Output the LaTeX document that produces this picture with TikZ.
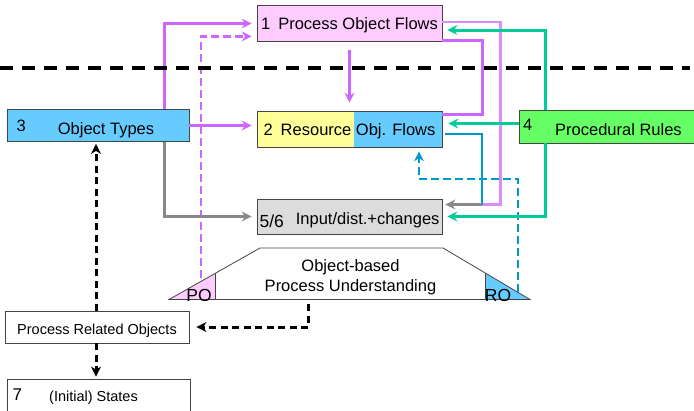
\documentclass[tikz,border=0pt]{standalone}
\usepackage{fontspec}
\setmainfont{Liberation Sans}
\usetikzlibrary{arrows.meta}

\definecolor{flowpink}{HTML}{FFCCFF}
\definecolor{resyellow}{HTML}{FFFF99}
\definecolor{objblue}{HTML}{66CCFF}
\definecolor{rulegreen}{HTML}{66FF66}
\definecolor{iogray}{HTML}{DCDCDC}
\definecolor{boxline}{HTML}{444444}
\definecolor{lilac}{HTML}{CC66FF}
\definecolor{lilaclight}{HTML}{D98CFF}
\definecolor{rulecyan}{HTML}{00CC99}
\definecolor{flowblue}{HTML}{0099CC}
\definecolor{linegray}{HTML}{888888}

\tikzset{
  box/.style={draw=boxline, line width=0.8pt, inner sep=0pt, text depth=0pt,
    font=\fontsize{16.5}{19}\selectfont},
  smallbox/.style={box, fill=white, font=\fontsize{14.5}{17}\selectfont},
  numtxt/.style={anchor=base west, inner sep=0pt, font=\fontsize{16.5}{19}\selectfont},
  link/.style={line width=3pt, -{Stealth[length=10pt,width=10pt,inset=3.5pt]}, shorten >=5pt},
  dlink/.style={black, line width=3pt, dash pattern=on 7pt off 4.5pt,
    -{Stealth[length=10pt,width=10pt,inset=3pt]}},
  sepline/.style={black, line width=4pt, dash pattern=on 13pt off 9pt}
}

\begin{document}
\begin{tikzpicture}[x=1pt,y=-1pt]
  \useasboundingbox (0,0) rectangle (694,410);
  % flow boxes
  \node [box, fill=flowpink, minimum width=185pt, minimum height=35.5pt, text height=12pt]
    (pof) at (349.5,23.5) {1\hspace{8pt}Process Object Flows};
  \node [box, fill=objblue, minimum width=185pt, minimum height=36pt, text height=12pt,
    path picture={\fill [resyellow] (path picture bounding box.north west)
      rectangle ([xshift=4.5pt]path picture bounding box.south);}]
    (rof) at (349.5,129.5) {2\hspace{8pt}Resource Obj. Flows};
  \node [box, fill=iogray, minimum width=185pt, minimum height=35pt, text height=15pt]
    (iod) at (349.5,216.5) {\raisebox{-3.5pt}{\fontsize{17.5}{20}\selectfont 5/6}\hspace{12pt}Input/dist.+changes};
  % side boxes
  \node [box, fill=objblue, minimum width=182pt, minimum height=32pt, text height=17pt]
    (objt) at (98,125.5) {\hspace*{16pt}Object Types};
  \node [numtxt] (num3) at (16.5,131) {3};
  \node [box, fill=rulegreen, minimum width=181pt, minimum height=33pt, text height=17pt]
    (rules) at (609.5,126.5) {\hspace*{18pt}Procedural Rules};
  \node [numtxt] (num4) at (523,130.7) {4};
  \node [smallbox, minimum width=184pt, minimum height=32pt, text height=14pt]
    (pro) at (97,327) {Process Related Objects};
  \node [smallbox, minimum width=183pt, minimum height=35pt, text height=10.5pt]
    (inis) at (98.5,396.5) {(Initial) States\hspace*{10pt}};
  \node [numtxt, font=\fontsize{17}{19}\selectfont] (num7) at (12.5,400.7) {7};
  % understanding
  \fill [flowpink] (169,299.5) -- (215,273.5) -- (215,299.5) -- cycle;
  \fill [objblue] (485,272.9) -- (530,299.5) -- (485,299.5) -- cycle;
  \draw [boxline, line width=0.8pt] (169,299.5) -- (260,248) -- (443,248) -- (530,299.5) -- cycle;
  \draw [boxline, line width=0.8pt] (215,273.5) -- (215,299.5);
  \draw [boxline, line width=0.8pt] (485,272.9) -- (485,299.5);
  \node [align=center, inner sep=0pt, font=\fontsize{16.5}{20}\selectfont]
    (opu) at (350.5,277.5) {Object-based\\Process Understanding};
  \node [anchor=base, inner sep=0pt, font=\fontsize{17.5}{20}\selectfont] (po) at (199,301.5) {PO};
  \node [anchor=base, inner sep=0pt, font=\fontsize{17.5}{20}\selectfont] (ro) at (498,301.5) {RO};
  \coordinate (pom) at (201,278);
  \coordinate (rom) at (518,292);
  \coordinate (opub) at (308,304);
  \coordinate (jn) at (482,204.5);
  % lilac
  \draw [link, lilac] ([xshift=-24.5pt]objt.north east) |- (pof.west);
  \draw [link, lilac, line width=2.5pt, dash pattern=on 8pt off 4pt] (pom) |- ([yshift=5.25pt]pof.south west);
  \draw [link, lilac] (objt.east) -- (objt.east -| rof.west);
  \draw [link, lilac, shorten <=8pt, shorten >=8.5pt] (pof.south) -- (rof.north);
  \draw [lilac, line width=3pt] ([yshift=1pt]pof.south east) -- ++(40,0) |- ([yshift=-3.5pt]rof.north east);
  \draw [lilaclight, line width=2.2pt] ([yshift=1.5pt]pof.east) -- ++(58,0) |- (jn);
  % blue and gray
  \draw [flowblue, line width=2pt, shorten <=3pt] ([yshift=-4.5pt]rof.east) -| (jn);
  \draw [link, linegray, shorten >=3pt] (jn) -- (jn -| iod.east);
  \draw [link, linegray] ([xshift=-24.5pt]objt.south east) |- (iod.west);
  \draw [link, flowblue, line width=2.5pt, dash pattern=on 8pt off 4pt, shorten >=3.5pt]
    (rom) -- ++(0,-113) -| ([xshift=69.5pt]rof.south);
  % rules
  \draw [link, rulecyan] ([xshift=27pt]rules.north west) |- ([yshift=-6.5pt]pof.east);
  \draw [link, rulecyan, shorten >=6pt] ([yshift=3pt]rules.west) -- ([yshift=3pt]rules.west -| rof.east);
  \draw [link, rulecyan] ([xshift=27pt]rules.south west) |- (iod.east);
  % objects
  \draw [dlink, shorten >=7pt] (opub) |- (pro.east);
  \draw [dlink, shorten >=2pt] ([xshift=-1pt]pro.north) -- ([xshift=-1pt]pro.north |- objt.south);
  \draw [dlink, shorten >=2pt] ([xshift=-1pt]pro.south) -- ([xshift=-1pt]pro.south |- inis.north);
  % border line
  \draw [sepline] (0,68) -- (690,68);
\end{tikzpicture}
\end{document}
